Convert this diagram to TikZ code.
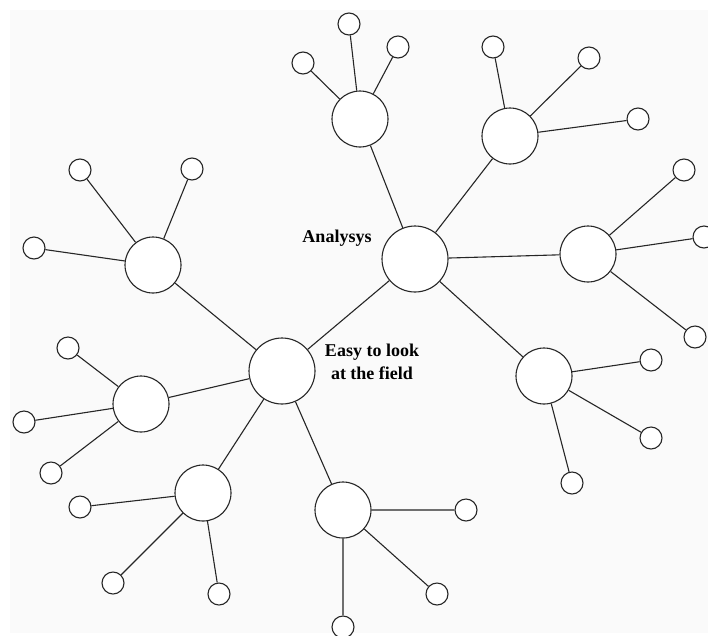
\documentclass[tikz,border=0pt]{standalone}
\usepackage{fontspec}
\setmainfont{Liberation Serif}
\begin{document}
\begin{tikzpicture}[x=1pt,y=-1pt,color=black!85,line width=1.1pt,
    big/.style={circle,draw,fill=white,minimum size=66pt,inner sep=0pt},
    mid/.style={circle,draw,fill=white,minimum size=56pt,inner sep=0pt},
    leaf/.style={circle,draw,fill=white,minimum size=22pt,inner sep=0pt},
    lbl/.style={font=\bfseries\fontsize{18}{23}\selectfont,align=center,text=black}]
\clip (0,0) rectangle (708,635);
\fill[white] (0,0) rectangle (708,635);
\fill[black!2] (10,10) rectangle (708,633);

\node (A) [big] at (282,371) {};
\path (A) +(133,-112) node (B) [big] {};
\path (A) +(90,-9) node (labA) [lbl] {Easy to look\\at the field};
\path (B) +(-78,-21) node (labB) [lbl] {Analysys};

\path (B) +(-55,-140) node (m1) [mid] {};
\path (B) +(95,-123) node (m2) [mid] {};
\path (B) +(173,-5) node (m3) [mid] {};
\path (B) +(129,117) node (m4) [mid] {};
\path (A) +(-129,-106) node (m5) [mid] {};
\path (A) +(-141,33) node (m6) [mid] {};
\path (A) +(-79,122) node (m7) [mid] {};
\path (A) +(61,139) node (m8) [mid] {};

\path (m1) +(-11,-95) node (m1a) [leaf] {} +(-57,-56) node (m1b) [leaf] {} +(38,-72) node (m1c) [leaf] {};
\path (m2) +(-17,-89) node (m2a) [leaf] {} +(79,-78) node (m2b) [leaf] {} +(128,-17) node (m2c) [leaf] {};
\path (m3) +(96,-84) node (m3a) [leaf] {} +(116,-17) node (m3b) [leaf] {} +(107,83) node (m3c) [leaf] {};
\path (m4) +(107,-16) node (m4a) [leaf] {} +(107,62) node (m4b) [leaf] {} +(28,107) node (m4c) [leaf] {};
\path (m5) +(-73,-95) node (m5a) [leaf] {} +(39,-96) node (m5b) [leaf] {} +(-119,-17) node (m5c) [leaf] {};
\path (m6) +(-73,-56) node (m6a) [leaf] {} +(-117,18) node (m6b) [leaf] {} +(-90,69) node (m6c) [leaf] {};
\path (m7) +(-123,14) node (m7a) [leaf] {} +(-90,90) node (m7b) [leaf] {} +(16,101) node (m7c) [leaf] {};
\path (m8) +(123,0) node (m8a) [leaf] {} +(94,84) node (m8b) [leaf] {} +(0,117) node (m8c) [leaf] {};

\draw (A) -- (B);
\draw (B) -- (m1) (B) -- (m2) (B) -- (m3) (B) -- (m4);
\draw (A) -- (m5) (A) -- (m6) (A) -- (m7) (A) -- (m8);
\foreach \m in {m1,m2,m3,m4,m5,m6,m7,m8}
  \draw (\m) -- (\m a) (\m) -- (\m b) (\m) -- (\m c);
\end{tikzpicture}
\end{document}
